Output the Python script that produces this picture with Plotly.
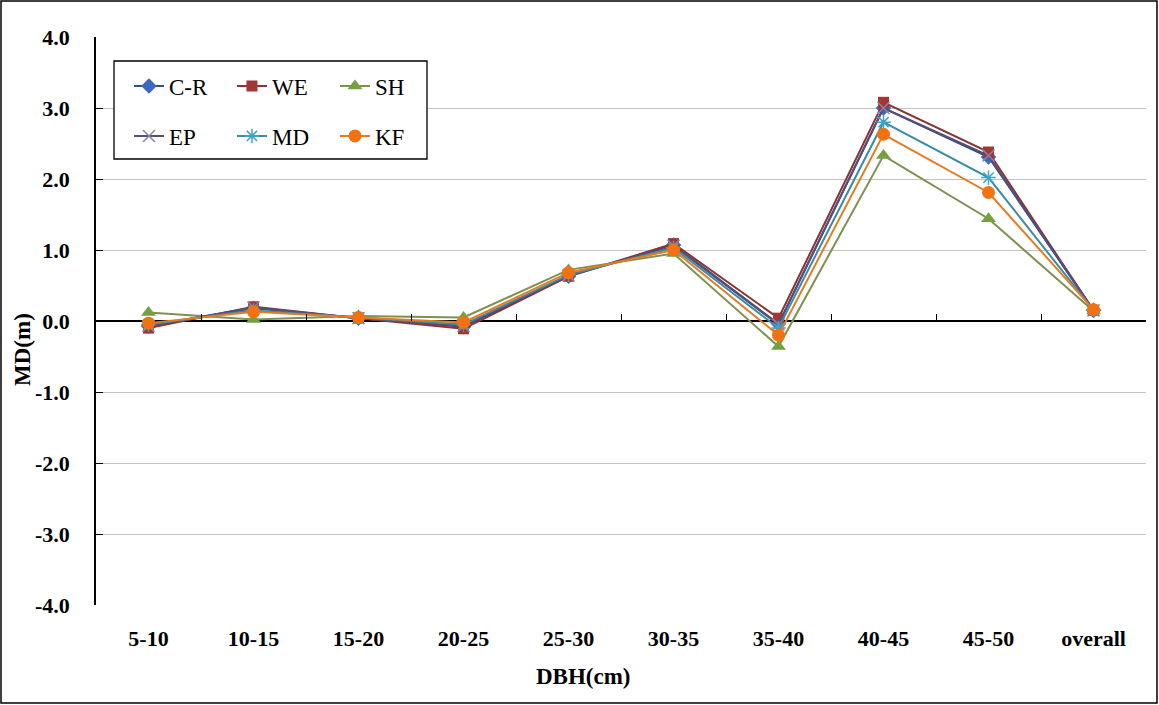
import plotly.graph_objects as go

categories = ["5-10", "10-15", "15-20", "20-25", "25-30", "30-35", "35-40", "40-45", "45-50", "overall"]
CR = [-0.07, 0.18, 0.04, -0.08, 0.63, 1.07, -0.04, 3.00, 2.31, 0.15]
WE = [-0.10, 0.20, 0.04, -0.11, 0.63, 1.09, 0.04, 3.08, 2.38, 0.15]
SH = [0.12, 0.02, 0.07, 0.05, 0.72, 0.95, -0.36, 2.33, 1.44, 0.14]
EP = [-0.07, 0.19, 0.04, -0.07, 0.64, 1.06, -0.05, 3.00, 2.33, 0.15]
MD = [-0.05, 0.15, 0.05, -0.05, 0.65, 1.03, -0.10, 2.80, 2.02, 0.15]
KF = [-0.03, 0.13, 0.05, -0.02, 0.68, 1.00, -0.20, 2.63, 1.81, 0.16]
y_ticks = [-4, -3, -2, -1, 0, 1, 2, 3, 4]
y_ticktext = ["%.1f" % v for v in y_ticks]

SERIF = "Liberation Serif"

series = [
    ("C-R", CR, "#2F4F86", "#3D68BE", "diamond", 12, "legend"),
    ("WE", WE, "#8B3232", "#A13634", "square", 11, "legend"),
    ("SH", SH, "#7D9150", "#76A040", "triangle-up", 13, "legend"),
    ("EP", EP, "#564E78", "#8A84A8", "x-thin-open", 12, "legend2"),
    ("MD", MD, "#3A8CA6", "#3FA3C3", "asterisk-open", 12, "legend2"),
    ("KF", KF, "#E87A20", "#F27212", "circle", 13, "legend2"),
]

fig = go.Figure()
for name, vals, lc, mc, sym, size, leg in series:
    open_sym = sym.endswith("open")
    fig.add_trace(go.Scatter(
        x=categories, y=vals, name=name, mode="lines+markers",
        line=dict(color=lc, width=2),
        marker=dict(symbol=sym, size=size, color=mc,
                    line=dict(color=mc, width=1.5 if open_sym else 0)),
        legend=leg,
    ))

# helper trace for the category axis drawn at y=0
fig.add_trace(go.Scatter(x=categories, y=[None] * len(categories), xaxis="x2",
                         showlegend=False, hoverinfo="skip", mode="lines"))

fig.update_layout(
    width=1159, height=705,
    margin=dict(l=96, r=13, t=37, b=100),
    paper_bgcolor="white", plot_bgcolor="white",
    font=dict(family=SERIF, size=21, color="black"),
    showlegend=True,
    legend=dict(orientation="h", x=0.0314, y=0.9137, xanchor="left", yanchor="middle",
                bgcolor="rgba(0,0,0,0)", borderwidth=0, entrywidth=58,
                font=dict(family=SERIF, size=23, color="black"), tracegroupgap=0),
    legend2=dict(orientation="h", x=0.0314, y=0.8257, xanchor="left", yanchor="middle",
                 bgcolor="rgba(0,0,0,0)", borderwidth=0, entrywidth=58,
                 font=dict(family=SERIF, size=23, color="black"), tracegroupgap=0),
    xaxis=dict(type="category", categoryorder="array", categoryarray=categories,
               range=[-0.5, len(categories) - 0.5], showline=False, showgrid=False,
               zeroline=False, ticks="", ticklabelstandoff=18,
               tickfont=dict(family=SERIF, size=22, color="black", weight="bold")),
    xaxis2=dict(type="category", categoryorder="array", categoryarray=categories,
                range=[-0.5, len(categories) - 0.5], overlaying="x", anchor="free",
                position=0.5, side="bottom", showline=False, showgrid=False,
                zeroline=False, showticklabels=False, ticks="inside",
                tickson="boundaries", ticklen=7, tickwidth=1.3, tickcolor="black"),
    yaxis=dict(range=[-4, 4], tickvals=y_ticks, ticktext=y_ticktext,
               showline=True, linecolor="black", linewidth=1.5,
               ticks="inside", ticklen=7, tickwidth=1.3, tickcolor="black",
               showgrid=True, gridcolor="#C4C4C4", gridwidth=1,
               zeroline=True, zerolinecolor="black", zerolinewidth=1.5,
               ticklabelstandoff=20,
               tickfont=dict(family=SERIF, size=22, color="black", weight="bold")),
    shapes=[
        dict(type="rect", xref="paper", yref="paper",
             x0=(114 - 96) / 1050, x1=(427 - 96) / 1050,
             y0=(605 - 159) / 568, y1=(605 - 61) / 568,
             line=dict(color="black", width=1.3), fillcolor="white", layer="above"),
        dict(type="rect", xref="paper", yref="paper",
             x0=(1 - 96) / 1050, x1=(1157 - 96) / 1050,
             y0=(605 - 703) / 568, y1=(605 - 1) / 568,
             line=dict(color="black", width=1.5), fillcolor="rgba(0,0,0,0)", layer="above"),
    ],
    annotations=[
        dict(text="MD(m)", xref="paper", yref="paper", x=(22 - 96) / 1050,
             y=(605 - 350) / 568, textangle=-90, showarrow=False,
             xanchor="center", yanchor="middle",
             font=dict(family=SERIF, size=23, color="black", weight="bold")),
        dict(text="DBH(cm)", xref="paper", yref="paper", x=(583 - 96) / 1050,
             y=(605 - 676) / 568, showarrow=False, xanchor="center", yanchor="middle",
             font=dict(family=SERIF, size=23, color="black", weight="bold")),
    ],
)

fig.write_html("out.html")
